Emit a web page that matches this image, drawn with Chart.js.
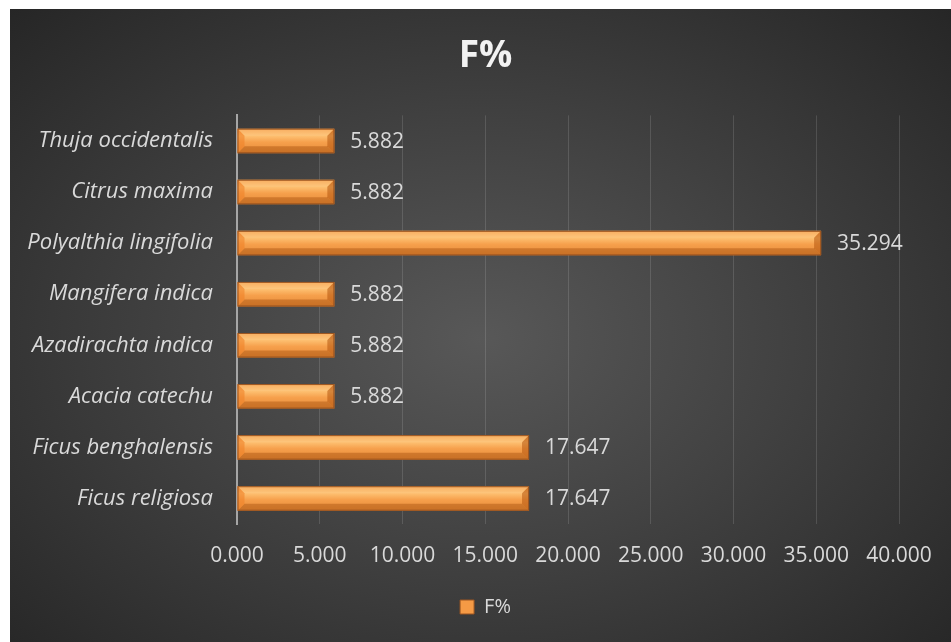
<!DOCTYPE html>
<html>
<head>
<meta charset="utf-8">
<script src="https://cdn.jsdelivr.net/npm/chart.js@4.4.1/dist/chart.umd.min.js"></script>
<style>
  html, body { margin: 0; padding: 0; background: #ffffff; }
  #wrap {
    position: absolute; left: 10px; top: 9px; width: 941px; height: 633px;
    background: radial-gradient(ellipse farthest-corner at 50% 52%, #585858 0%, #424242 45%, #262626 100%);
  }
</style>
</head>
<body>
<div id="wrap"><canvas id="chart"></canvas></div>
<script>
// 物种名称（自下而上）与频率 F%
const species = [
  'Ficus religiosa', 'Ficus benghalensis', 'Acacia catechu', 'Azadirachta indica',
  'Mangifera indica', 'Polyalthia lingifolia', 'Citrus maxima', 'Thuja occidentalis'
];
const freq = [17.647, 17.647, 5.882, 5.882, 5.882, 35.294, 5.882, 5.882];
const xTicks = [0, 5, 10, 15, 20, 25, 30, 35, 40];

const FONT = '"Open Sans", "Noto Sans", sans-serif';
const BAR_PCT = 0.48;

/** 橙色柱子的竖向渐变（按类别位置计算） */
function barGradient(context) {
  const { chart } = context;
  const yScale = chart.scales && chart.scales.y;
  if (!chart.chartArea || !yScale || context.dataIndex === undefined) return '#f59a45';
  const cy = yScale.getPixelForValue(context.dataIndex);
  const half = (chart.chartArea.height / species.length) * BAR_PCT / 2;
  if (!isFinite(cy) || !isFinite(half)) return '#f59a45';
  const g = chart.ctx.createLinearGradient(0, cy - half, 0, cy + half);
  g.addColorStop(0, '#f59a45');
  g.addColorStop(0.3, '#fdbf70');
  g.addColorStop(0.55, '#f6a04c');
  g.addColorStop(1, '#e58a38');
  return g;
}

/** 斜面效果：两端三角与上下边 */
const bevelPlugin = {
  id: 'bevel',
  afterDatasetsDraw(chart) {
    const ctx = chart.ctx;
    chart.getDatasetMeta(0).data.forEach(bar => {
      const l = bar.base, r = bar.x;
      const t = bar.y - bar.height / 2, b = bar.y + bar.height / 2;
      const s = Math.min(7, (r - l) / 2);
      ctx.save();
      // 上沿高光
      ctx.fillStyle = 'rgba(255,220,160,0.3)';
      ctx.beginPath();
      ctx.moveTo(l, t); ctx.lineTo(r, t); ctx.lineTo(r - s, t + s); ctx.lineTo(l + s, t + s);
      ctx.closePath(); ctx.fill();
      // 下沿阴影
      ctx.fillStyle = 'rgba(160,75,10,0.4)';
      ctx.beginPath();
      ctx.moveTo(l, b); ctx.lineTo(r, b); ctx.lineTo(r - s, b - s); ctx.lineTo(l + s, b - s);
      ctx.closePath(); ctx.fill();
      // 左端
      ctx.fillStyle = 'rgba(240,130,40,0.6)';
      ctx.beginPath();
      ctx.moveTo(l, t); ctx.lineTo(l + s, t + s); ctx.lineTo(l + s, b - s); ctx.lineTo(l, b);
      ctx.closePath(); ctx.fill();
      // 右端
      ctx.fillStyle = 'rgba(180,85,15,0.55)';
      ctx.beginPath();
      ctx.moveTo(r, t); ctx.lineTo(r - s, t + s); ctx.lineTo(r - s, b - s); ctx.lineTo(r, b);
      ctx.closePath(); ctx.fill();
      // 外框
      ctx.strokeStyle = '#9c5520';
      ctx.lineWidth = 1;
      ctx.strokeRect(l + 0.5, t + 0.5, r - l - 1, b - t - 1);
      ctx.restore();
    });
  }
};

/** 柱子右侧的数值标签 */
const valueLabelPlugin = {
  id: 'valueLabels',
  afterDatasetsDraw(chart) {
    const ctx = chart.ctx;
    const ds = chart.data.datasets[0];
    ctx.save();
    ctx.font = `21px ${FONT}`;
    ctx.fillStyle = '#d9d9d9';
    ctx.textAlign = 'left';
    ctx.textBaseline = 'middle';
    chart.getDatasetMeta(0).data.forEach((bar, i) => {
      ctx.fillText(ds.data[i].toFixed(3), bar.x + 16, bar.y + 1);
    });
    ctx.restore();
  }
};

new Chart(document.getElementById('chart'), {
  type: 'bar',
  data: {
    labels: species,
    datasets: [{
      label: 'F%',
      data: freq,
      backgroundColor: barGradient,
      borderWidth: 0,
      categoryPercentage: 1,
      barPercentage: BAR_PCT
    }]
  },
  plugins: [bevelPlugin, valueLabelPlugin],
  options: {
    indexAxis: 'y',
    responsive: true,
    maintainAspectRatio: false,
    animation: false,
    layout: { padding: { left: 10, right: 0, top: 0, bottom: 15 } },
    plugins: {
      title: {
        display: true,
        text: 'F%',
        color: '#f2f2f2',
        font: { family: FONT, size: 37, weight: 'bold' },
        padding: { top: 25, bottom: 37 }
      },
      legend: {
        position: 'bottom',
        labels: {
          color: '#d9d9d9',
          font: { family: FONT, size: 20 },
          usePointStyle: true,
          pointStyle: 'rect',
          boxWidth: 14,
          boxHeight: 14,
          padding: 9,
          generateLabels() {
            return [{
              text: 'F%',
              fillStyle: '#f59a45',
              strokeStyle: '#9c5520',
              lineWidth: 1,
              pointStyle: 'rect',
              fontColor: '#d9d9d9',
              datasetIndex: 0
            }];
          }
        }
      },
      tooltip: { enabled: false }
    },
    scales: {
      x: {
        min: 0,
        max: 40,
        afterBuildTicks(scale) {
          scale.ticks = xTicks.map(v => ({ value: v }));
        },
        afterFit(scale) { scale.height = 64; },
        grid: { color: 'rgba(255,255,255,0.13)', lineWidth: 1, drawTicks: false },
        border: { display: false },
        ticks: {
          color: '#d9d9d9',
          font: { family: FONT, size: 21 },
          padding: 19,
          callback: v => Number(v).toFixed(3)
        }
      },
      y: {
        reverse: true,
        afterFit(scale) { scale.width = 217; },
        grid: { display: false, drawTicks: false },
        border: { display: true, color: '#a6a6a6', width: 2 },
        ticks: {
          color: '#d9d9d9',
          font: { family: FONT, size: 22, style: 'italic' },
          padding: 24
        }
      },
      // 右侧留白
      yRight: {
        type: 'linear',
        position: 'right',
        afterFit(scale) { scale.width = 52; },
        grid: { display: false, drawTicks: false },
        border: { display: false },
        ticks: { display: false }
      }
    }
  }
});
</script>
</body>
</html>
